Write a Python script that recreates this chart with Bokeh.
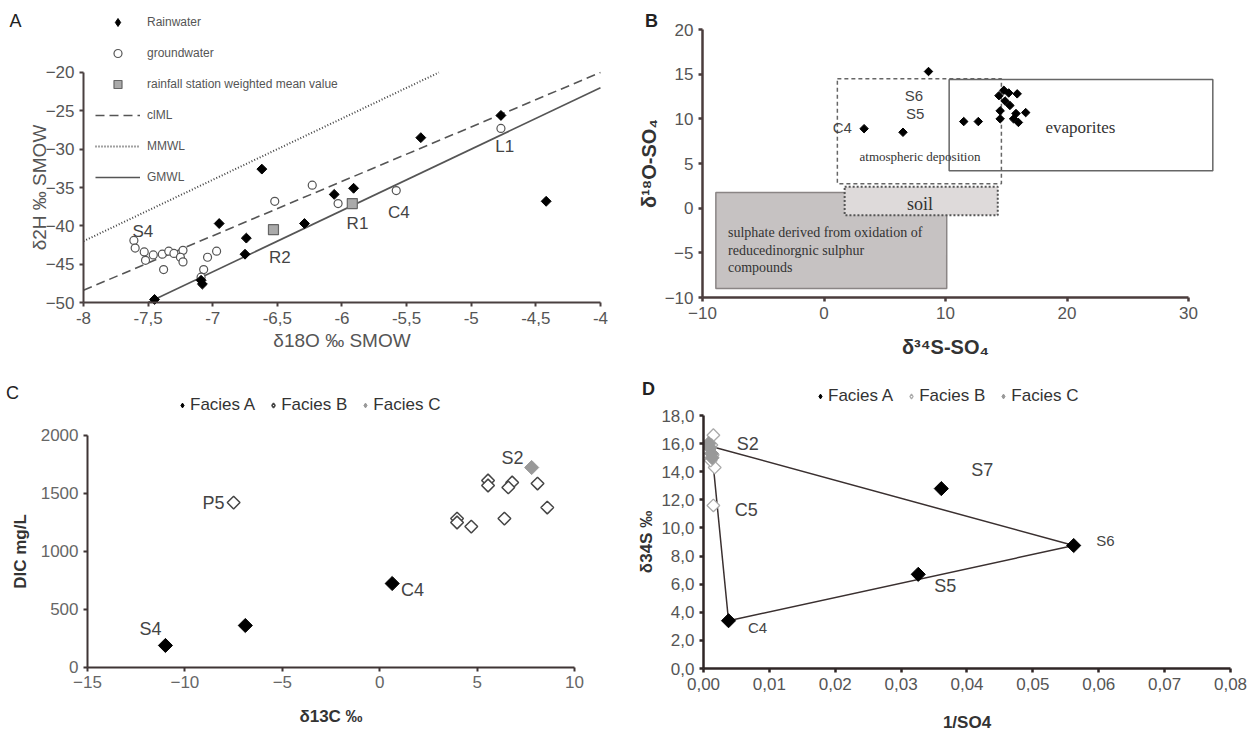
from bokeh.plotting import figure
from bokeh.layouts import row, column
from bokeh.models import Legend, LegendItem, Label, FixedTicker, CustomJSTickFormatter, Range1d
from bokeh.core.properties import value
from bokeh.embed import file_html
from bokeh.resources import INLINE

# ---------------- Panel A data ----------------
rain_x = [-6.62, -5.39, -4.77, -4.42, -6.06, -5.91, -6.95, -6.29, -6.74, -6.75, -7.09, -7.08, -7.45]
rain_y = [-32.6, -28.5, -25.6, -36.8, -35.9, -35.1, -39.7, -39.7, -41.6, -43.7, -47.1, -47.6, -49.6]
gw_x = [-6.23, -6.52, -6.03, -5.58, -4.77, -7.61, -7.60, -7.52, -7.53, -7.46, -7.38, -7.39,
        -7.34, -7.30, -7.23, -7.25, -7.23, -7.04, -6.97, -7.07, -7.09]
gw_y = [-34.7, -36.8, -37.1, -35.4, -27.3, -41.9, -42.9, -44.5, -43.4, -43.8, -45.7, -43.7,
        -43.3, -43.6, -43.2, -44.1, -44.7, -44.1, -43.3, -45.7, -46.7]
station_x = [-6.53, -5.92]
station_y = [-40.5, -37.1]
clml_x = [-8.0, -4.0]
clml_y = [-48.4, -20.0]
mmwl_x = [-8.0, -5.25]
mmwl_y = [-42.0, -20.0]
gmwl_x = [-7.5, -4.0]
gmwl_y = [-50.0, -22.0]
a_lab_text = ["S4", "R2", "R1", "C4", "L1"]
a_lab_x = [-7.54, -6.48, -5.88, -5.56, -4.74]
a_lab_y = [-40.8, -44.1, -39.7, -38.2, -29.6]
a_xticks = [-8, -7.5, -7, -6.5, -6, -5.5, -5, -4.5, -4]
a_yticks = [-50, -45, -40, -35, -30, -25, -20]

# ---------------- Panel B data ----------------
b_x = [8.6, 3.3, 6.5, 11.5, 12.7, 14.4, 14.5, 15.9, 16.6, 14.9, 15.3, 15.8, 16.0, 15.2, 14.8, 15.6, 14.5]
b_y = [15.3, 8.9, 8.5, 9.7, 9.7, 12.6, 10.0, 12.8, 10.7, 12.0, 11.5, 10.6, 9.6, 12.9, 13.2, 10.0, 10.9]
b_lab_text = ["S6", "S5", "C4"]
b_lab_x = [7.4, 7.5, 1.5]
b_lab_y = [12.6, 10.6, 9.0]
# boxes: oxidation, soil, atmospheric deposition, evaporites
box_left = [-8.9, 1.7, 1.1, 10.3]
box_right = [10.1, 14.3, 14.6, 32.0]
box_bottom = [-9.0, -0.8, 2.75, 4.2]
box_top = [1.75, 2.4, 14.5, 14.4]
region_text = ["atmospheric deposition", "evaporites", "soil"]
region_x = [7.9, 21.1, 7.9]
region_y = [5.8, 9.0, 0.5]
oxid_lines = ["sulphate derived from oxidation of", "reducedinorgnic sulphur", "compounds"]
oxid_x = [-7.9, -7.9, -7.9]
oxid_y = [-2.7, -4.7, -6.65]
b_xticks = [-10, 0, 10, 20, 30]
b_yticks = [-10, -5, 0, 5, 10, 15, 20]

# ---------------- Panel C data ----------------
ca_x = [-11.0, -6.9, 0.64]
ca_y = [190, 362, 724]
cb_x = [-7.5, 5.56, 5.56, 6.8, 6.6, 8.1, 8.6, 3.97, 3.97, 4.7, 6.4]
cb_y = [1422, 1612, 1569, 1595, 1552, 1586, 1379, 1284, 1250, 1215, 1284]
cc_x = [7.8]
cc_y = [1724]
c_lab_text = ["S4", "P5", "C4", "S2"]
c_lab_x = [-11.77, -8.53, 1.68, 6.82]
c_lab_y = [328, 1414, 664, 1810]
c_xticks = [-15, -10, -5, 0, 5, 10]
c_yticks = [0, 500, 1000, 1500, 2000]

# ---------------- Panel D data ----------------
da_x = [0.0038, 0.0326, 0.0361, 0.0562]
da_y = [3.4, 6.7, 12.8, 8.75]
db_x = [0.0015, 0.0017, 0.0015, 0.0012, 0.0014, 0.0011]
db_y = [16.6, 14.3, 11.6, 15.9, 15.2, 14.8]
dc_x = [0.0010, 0.0012, 0.0008, 0.0013]
dc_y = [15.7, 15.3, 16.0, 15.0]
tri_x = [0.0012, 0.0562, 0.0038, 0.0012]
tri_y = [15.8, 8.75, 3.4, 15.8]
d_lab_text = ["S2", "C5", "S7", "S5"]
d_lab_x = [0.0067, 0.0065, 0.0423, 0.0367]
d_lab_y = [16.0, 11.3, 14.15, 5.9]
d_small_text = ["S6", "C4"]
d_small_x = [0.0610, 0.0082]
d_small_y = [9.1, 2.9]
d_xticks = [0.0, 0.01, 0.02, 0.03, 0.04, 0.05, 0.06, 0.07, 0.08]
d_yticks = [0, 2, 4, 6, 8, 10, 12, 14, 16, 18]

FONT = "Liberation Sans"
SERIF = "Liberation Serif"
DIAMOND = 0.785398


def make_fig(w, h, xr, yr):
    p = figure(width=w, height=h, x_range=Range1d(*xr), y_range=Range1d(*yr),
               output_backend="svg", toolbar_location=None,
               min_border_left=0, min_border_right=0, min_border_top=0, min_border_bottom=0)
    p.xgrid.visible = False
    p.ygrid.visible = False
    p.outline_line_color = None
    p.background_fill_color = "white"
    p.border_fill_color = "white"
    try:
        p.frame_align = False
    except Exception:
        pass
    return p


def style_axes(p, axis_color, lw, tick_px, tick_color, label_px, label_color, bold):
    for ax in (p.xaxis[0], p.yaxis[0]):
        ax.axis_line_color = axis_color
        ax.axis_line_width = lw
        ax.major_tick_line_color = axis_color
        ax.major_tick_line_width = lw
        ax.major_tick_out = 4
        ax.major_tick_in = 0
        ax.minor_tick_line_color = None
        ax.major_label_text_font = FONT
        ax.major_label_text_font_size = f"{tick_px}px"
        ax.major_label_text_color = tick_color
        ax.axis_label_text_font = FONT
        ax.axis_label_text_font_size = f"{label_px}px"
        ax.axis_label_text_color = label_color
        ax.axis_label_text_font_style = "bold" if bold else "normal"


def panel_letter(p, txt, x, y, bold):
    p.add_layout(Label(x=x, y=y, x_units="screen", y_units="screen", text=txt,
                       text_font=FONT, text_font_size="18px", text_color="#222",
                       text_font_style="bold" if bold else "normal",
                       text_align="center", text_baseline="middle"))


def diamonds(p, xs, ys, size, fill, line, lw=1.0):
    """Legend proxy (plain diamond, hidden beneath) + the drawn diamond markers on top."""
    proxy = p.scatter(xs, ys, marker="diamond", size=size * 0.8, fill_color=fill,
                      line_color=line, line_width=lw)
    p.scatter(xs, ys, marker="square", angle=DIAMOND, size=size, fill_color=fill,
              line_color=line, line_width=lw)
    return proxy


# ================= Panel A =================
pA = make_fig(628, 376, (-8.642, -3.783), (-59.65, -10.61))
pA.xaxis.fixed_location = -50
pA.yaxis.fixed_location = -8
pA.xaxis.ticker = FixedTicker(ticks=a_xticks)
pA.yaxis.ticker = FixedTicker(ticks=a_yticks)
pA.xaxis.formatter = CustomJSTickFormatter(code="return String(tick).replace('.', ',');")
pA.xaxis.bounds = (-8, -4)
pA.yaxis.bounds = (-50, -20)
pA.xaxis.axis_label = "δ18O ‰ SMOW"
pA.yaxis.axis_label = "δ2H ‰ SMOW"
style_axes(pA, "#4a4040", 2, 17, "#555", 19, "#555", False)
pA.xaxis.axis_label_standoff = 3
pA.yaxis.axis_label_standoff = -7

l_mm = pA.line(mmwl_x, mmwl_y, line_color="#444", line_width=2, line_dash="1 2")
l_cl = pA.line(clml_x, clml_y, line_color="#555", line_width=1.6, line_dash="9 5")
l_gm = pA.line(gmwl_x, gmwl_y, line_color="#555", line_width=1.6)
r_gw = pA.scatter(gw_x, gw_y, marker="circle", size=8, fill_color="white",
                  line_color="#555", line_width=1.2)
r_rain = diamonds(pA, rain_x, rain_y, 7, "black", "black")
r_st = pA.scatter(station_x, station_y, marker="square", size=10, fill_color="#aaaaaa",
                  line_color="#666", line_width=1.2)
pA.text(a_lab_x, a_lab_y, text=a_lab_text, text_font=value(FONT), text_font_size="17px",
        text_color="#444", text_align="center", text_baseline="middle")
legA = Legend(items=[LegendItem(label="Rainwater", renderers=[r_rain]),
                     LegendItem(label="groundwater", renderers=[r_gw]),
                     LegendItem(label="rainfall station weighted mean value", renderers=[r_st]),
                     LegendItem(label="clML", renderers=[l_cl]),
                     LegendItem(label="MMWL", renderers=[l_mm]),
                     LegendItem(label="GMWL", renderers=[l_gm])],
              location=(95, 189), orientation="vertical", glyph_width=45, glyph_height=20,
              label_height=20, spacing=11, padding=0, margin=0, label_standoff=7,
              label_text_font=FONT, label_text_font_size="12px", label_text_color="#555",
              border_line_color=None, background_fill_alpha=0)
pA.add_layout(legA)
panel_letter(pA, "A", 15, 356, False)

# ================= Panel B =================
pB = make_fig(630, 376, (-16.09, 35.76), (-18.84, 23.25))
pB.xaxis.fixed_location = -10
pB.yaxis.fixed_location = -10
pB.xaxis.ticker = FixedTicker(ticks=b_xticks)
pB.yaxis.ticker = FixedTicker(ticks=b_yticks)
pB.xaxis.bounds = (-10, 30)
pB.yaxis.bounds = (-10, 20)
pB.xaxis.axis_label = "δ³⁴S-SO₄"
pB.yaxis.axis_label = "δ¹⁸O-SO₄"
style_axes(pB, "#4a3c3c", 2.5, 17, "#555", 20, "#333", True)
pB.xaxis.axis_label_standoff = 14
pB.yaxis.axis_label_standoff = 2

pB.quad(left=box_left[0:1], right=box_right[0:1], bottom=box_bottom[0:1], top=box_top[0:1],
        fill_color="#c6c2c2", line_color="#8a8585", line_width=1.5)
pB.quad(left=box_left[1:2], right=box_right[1:2], bottom=box_bottom[1:2], top=box_top[1:2],
        fill_color="#dedada", line_color="#555", line_width=2, line_dash="2 2")
pB.quad(left=box_left[2:3], right=box_right[2:3], bottom=box_bottom[2:3], top=box_top[2:3],
        fill_alpha=0, line_color="#666", line_width=1.5, line_dash="4 3")
pB.quad(left=box_left[3:4], right=box_right[3:4], bottom=box_bottom[3:4], top=box_top[3:4],
        fill_alpha=0, line_color="#666", line_width=1.5)
pB.text(region_x[0:1], region_y[0:1], text=region_text[0:1], text_font=value(SERIF),
        text_font_size="13px", text_color="#333", text_align="center", text_baseline="middle")
pB.text(region_x[1:2], region_y[1:2], text=region_text[1:2], text_font=value(SERIF),
        text_font_size="17px", text_color="#333", text_align="center", text_baseline="middle")
pB.text(region_x[2:3], region_y[2:3], text=region_text[2:3], text_font=value(SERIF),
        text_font_size="18px", text_color="#333", text_align="center", text_baseline="middle")
pB.text(oxid_x, oxid_y, text=oxid_lines, text_font=value(SERIF), text_font_size="14px",
        text_color="#333", text_align="left", text_baseline="middle")
pB.scatter(b_x, b_y, marker="square", angle=DIAMOND, size=6, fill_color="black", line_color="black")
pB.text(b_lab_x, b_lab_y, text=b_lab_text, text_font=value(FONT), text_font_size="15px",
        text_color="#444", text_align="center", text_baseline="middle")
panel_letter(pB, "B", 23, 356, True)

# ================= Panel C =================
pC = make_fig(628, 362, (-19.466, 12.77), (-612.1, 2508.6))
pC.xaxis.fixed_location = 0
pC.yaxis.fixed_location = -15
pC.xaxis.ticker = FixedTicker(ticks=c_xticks)
pC.yaxis.ticker = FixedTicker(ticks=c_yticks)
pC.xaxis.bounds = (-15, 10)
pC.yaxis.bounds = (0, 2000)
pC.xaxis.axis_label = "δ13C ‰"
pC.yaxis.axis_label = "DIC mg/L"
style_axes(pC, "#3f3535", 2, 17, "#666", 17, "#333", True)
pC.xaxis.axis_label_standoff = 15
pC.yaxis.axis_label_standoff = 8

rcA = diamonds(pC, ca_x, ca_y, 10, "black", "black")
rcB = diamonds(pC, cb_x, cb_y, 9, "white", "#444", 1.5)
rcC = diamonds(pC, cc_x, cc_y, 10, "#999", "#999")
pC.text(c_lab_x, c_lab_y, text=c_lab_text, text_font=value(FONT), text_font_size="18px",
        text_color="#444", text_align="center", text_baseline="middle")
legC = Legend(items=[LegendItem(label="Facies A", renderers=[rcA]),
                     LegendItem(label="Facies B", renderers=[rcB]),
                     LegendItem(label="Facies C", renderers=[rcC])],
              location=(176, 323), orientation="horizontal", glyph_width=12, glyph_height=16,
              label_height=16, spacing=12, padding=0, margin=0, label_standoff=2,
              label_text_font=FONT, label_text_font_size="17px", label_text_color="#333",
              border_line_color=None, background_fill_alpha=0)
pC.add_layout(legC)
panel_letter(pC, "C", 12, 346, False)

# ================= Panel D =================
pD = make_fig(630, 362, (-0.011385, 0.084251), (-4.98, 20.775))
pD.xaxis.fixed_location = 0
pD.yaxis.fixed_location = 0
pD.xaxis.ticker = FixedTicker(ticks=d_xticks)
pD.yaxis.ticker = FixedTicker(ticks=d_yticks)
pD.xaxis.formatter = CustomJSTickFormatter(code="return tick.toFixed(2).replace('.', ',');")
pD.yaxis.formatter = CustomJSTickFormatter(code="return tick.toFixed(1).replace('.', ',');")
pD.xaxis.bounds = (0, 0.08)
pD.yaxis.bounds = (0, 18)
pD.xaxis.axis_label = "1/SO4"
pD.yaxis.axis_label = "δ34S ‰"
style_axes(pD, "#2f2626", 2.5, 17, "#555", 17, "#333", True)
pD.xaxis.axis_label_standoff = 20
pD.yaxis.axis_label_standoff = 2

pD.line(tri_x, tri_y, line_color="#3a3030", line_width=1.5)
rdB = diamonds(pD, db_x, db_y, 9, "white", "#aaa", 1.3)
rdC = diamonds(pD, dc_x, dc_y, 10, "#999", "#999")
rdA = diamonds(pD, da_x, da_y, 10, "black", "black")
pD.text(d_lab_x, d_lab_y, text=d_lab_text, text_font=value(FONT), text_font_size="18px",
        text_color="#444", text_align="center", text_baseline="middle")
pD.text(d_small_x, d_small_y, text=d_small_text, text_font=value(FONT), text_font_size="15px",
        text_color="#444", text_align="center", text_baseline="middle")
legD = Legend(items=[LegendItem(label="Facies A", renderers=[rdA]),
                     LegendItem(label="Facies B", renderers=[rdB]),
                     LegendItem(label="Facies C", renderers=[rdC])],
              location=(186, 332), orientation="horizontal", glyph_width=12, glyph_height=16,
              label_height=16, spacing=12, padding=0, margin=0, label_standoff=2,
              label_text_font=FONT, label_text_font_size="17px", label_text_color="#333",
              border_line_color=None, background_fill_alpha=0)
pD.add_layout(legD)
panel_letter(pD, "D", 20, 350, True)

layout = column(row(pA, pB), row(pC, pD))
open("out.html", "w").write(file_html(layout, INLINE))
